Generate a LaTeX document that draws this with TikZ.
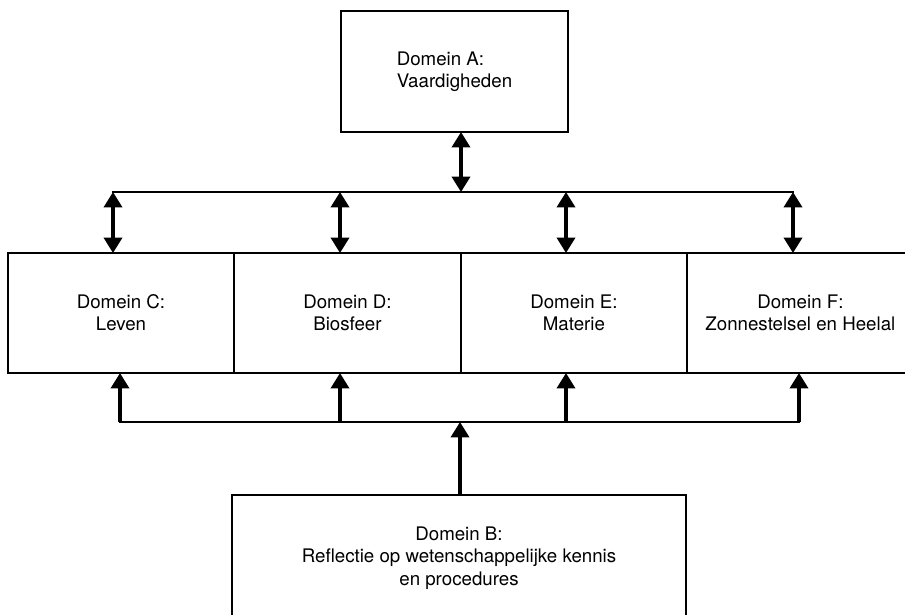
\documentclass[tikz,border=0pt]{standalone}
\usepackage{fontspec}
\setmainfont{TeX Gyre Heros}
\usetikzlibrary{arrows.meta,positioning}

\begin{document}
\begin{tikzpicture}[x=0.025cm,y=-0.025cm,
    domein/.style={draw,line width=1.5pt,outer sep=0pt,inner sep=0pt,minimum width=5.66cm,minimum height=3cm,align=center,font=\fontsize{13.3}{15.8}\selectfont},
    bus/.style={line width=1.7pt,line cap=rect},
    link/.style={line width=2.2pt,-{Triangle[width=13pt,length=11pt]}},
    both/.style={line width=2.2pt,{Triangle[width=13pt,length=11pt]}-{Triangle[width=13pt,length=11pt]}}]
\useasboundingbox (0,0) rectangle (905,614);
\node[domein,minimum width=5.675cm,minimum height=3.025cm,align=left] (A) at (454.5,71.5) {Domein A:\\Vaardigheden};
\node[domein] (C) at (121,313) {Domein C:\\Leven};
\node[domein,right=0pt of C] (D) {Domein D:\\Biosfeer};
\node[domein,right=0pt of D] (E) {Domein E:\\Materie};
\node[domein,right=0pt of E] (F) {Domein F:\\Zonnestelsel en Heelal};
\node[domein,minimum width=11.35cm,minimum height=3.15cm] (B) at (459,558) {Domein B:\\Reflectie op wetenschappelijke kennis\\en procedures};
\coordinate (ta) at (461,192);
\coordinate (t1) at (113,192);
\coordinate (t2) at (340,192);
\coordinate (t3) at (566,192);
\coordinate (t4) at (793,192);
\coordinate (bb) at (460,422);
\coordinate (b1) at (120,422);
\coordinate (b2) at (340,422);
\coordinate (b3) at (566,422);
\coordinate (b4) at (799,422);
\draw[bus] (t1) -- (t4);
\draw[both] (ta |- A.south) -- (ta);
\foreach \n/\b in {1/C,2/D,3/E,4/F}
    \draw[both] (t\n) -- (t\n |- \b.north);
\draw[bus] (b1) -- (b4);
\foreach \n/\b in {1/C,2/D,3/E,4/F}
    \draw[link] (b\n) -- (b\n |- \b.south);
\draw[link] (bb |- B.north) -- (bb);
\end{tikzpicture}
\end{document}
